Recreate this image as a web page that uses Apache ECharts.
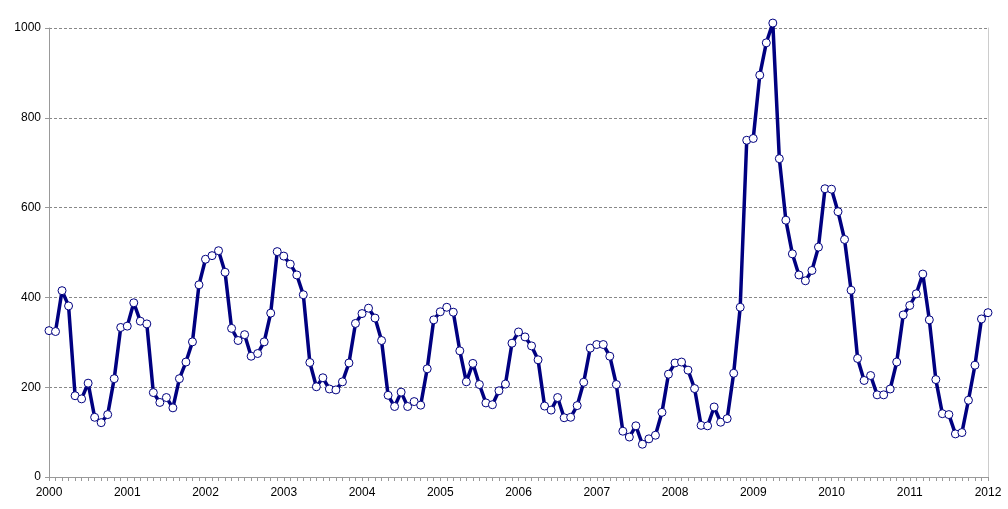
<!DOCTYPE html>
<html>
<head>
<meta charset="utf-8">
<script src="https://cdn.jsdelivr.net/npm/echarts@6/dist/echarts.min.js"></script>
<style>
  html, body { margin: 0; padding: 0; background: #fff; }
  #chart { width: 1008px; height: 509px; }
</style>
</head>
<body>
<div id="chart"></div>
<script>
// monthly values, one array per year (Jan..Dec)
var y2000 = [326, 324, 415, 381, 181, 174, 209, 133, 121, 139, 219, 333];
var y2001 = [336, 388, 347, 341, 188, 166, 177, 154, 219, 256, 301, 428];
var y2002 = [485, 493, 504, 456, 331, 304, 317, 269, 275, 301, 365, 502];
var y2003 = [492, 474, 450, 406, 255, 201, 221, 196, 194, 212, 254, 342];
var y2004 = [364, 376, 354, 304, 182, 157, 189, 157, 168, 160, 241, 350];
var y2005 = [368, 378, 367, 281, 212, 253, 206, 165, 161, 192, 207, 298];
var y2006 = [323, 312, 292, 261, 158, 149, 177, 132, 133, 159, 211, 287];
var y2007 = [295, 295, 269, 206, 102, 89, 114, 73, 85, 93, 144, 229];
var y2008 = [254, 256, 238, 197, 115, 114, 156, 122, 130, 231, 378, 750];
var y2009 = [754, 895, 967, 1011, 709, 572, 497, 450, 437, 460, 512, 642];
var y2010 = [641, 591, 529, 416, 264, 215, 226, 183, 183, 196, 256, 361];
var y2011 = [382, 408, 452, 350, 217, 141, 139, 96, 99, 171, 249, 352];
var y2012 = [366];

var yearLabels = ['2000', '2001', '2002', '2003', '2004', '2005', '2006',
    '2007', '2008', '2009', '2010', '2011', '2012'];

var values = [].concat(y2000, y2001, y2002, y2003, y2004, y2005, y2006,
    y2007, y2008, y2009, y2010, y2011, y2012);

// one category per month, the year name sits on January
var categories = [];
for (var i = 0; i < values.length; i++) {
    categories.push(i % 12 === 0 ? yearLabels[i / 12] : String(i));
}

var font = 'Liberation Sans, Arial, sans-serif';

var option = {
    animation: false,
    backgroundColor: '#fff',
    grid: {
        left: 49,
        right: 20,
        top: 28,
        bottom: 32
    },
    xAxis: {
        type: 'category',
        boundaryGap: false,
        data: categories,
        axisLine: { lineStyle: { color: '#999', width: 1 } },
        axisTick: { show: true, interval: 0, length: 4, lineStyle: { color: '#999' } },
        axisLabel: {
            interval: 11,
            color: '#000',
            fontFamily: font,
            fontSize: 12,
            margin: 10
        },
        splitLine: { show: false }
    },
    yAxis: [{
        type: 'value',
        min: 0,
        max: 1000,
        interval: 200,
        axisLine: { show: true, lineStyle: { color: '#999', width: 1 } },
        axisTick: { show: true, length: 4, lineStyle: { color: '#999' } },
        axisLabel: {
            color: '#000',
            fontFamily: font,
            fontSize: 12,
            margin: 8,
            formatter: function (v) { return String(v); }
        },
        splitLine: { show: true, lineStyle: { color: '#888', type: [3, 2], width: 1 } }
    }, {
        type: 'value',
        position: 'right',
        min: 0,
        max: 1000,
        interval: 200,
        axisLine: { show: true, lineStyle: { color: '#ccc', width: 1 } },
        axisTick: { show: false },
        axisLabel: { show: false },
        splitLine: { show: false }
    }],
    series: [{
        type: 'line',
        data: values,
        clip: false,
        smooth: false,
        symbol: 'circle',
        symbolSize: 8,
        showAllSymbol: true,
        lineStyle: { color: '#000080', width: 3.5 },
        itemStyle: { color: '#fff', borderColor: '#000080', borderWidth: 1 },
        z: 3
    }]
};

var chart = echarts.init(document.getElementById('chart'));
chart.setOption(option);
</script>
</body>
</html>
